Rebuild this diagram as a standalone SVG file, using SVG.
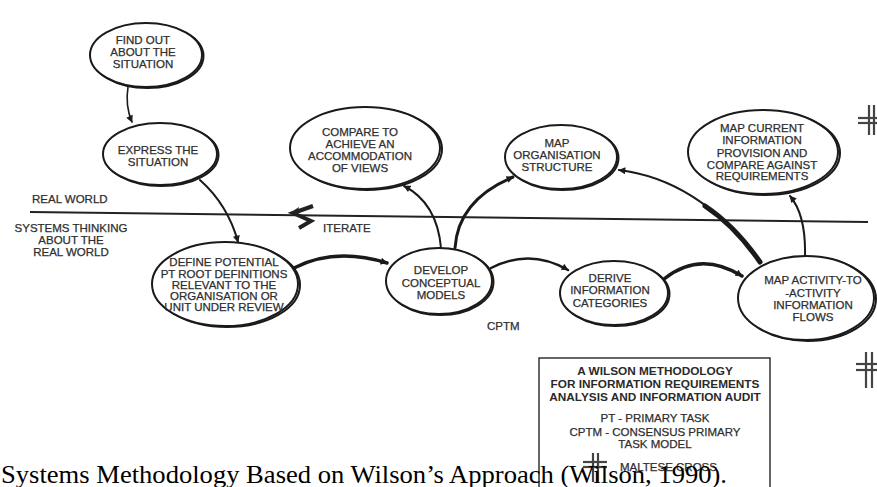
<svg xmlns="http://www.w3.org/2000/svg" width="877" height="487" viewBox="0 0 877 487">
<defs>
<style>
.n{fill:#fff;stroke:#1a1a1a;stroke-width:2}
.sh{fill:none;stroke:#1a1a1a;stroke-width:2}
.t{font-family:"Liberation Sans",Arial,sans-serif;font-size:11.5px;fill:#2e2e2e;stroke:#2e2e2e;stroke-width:0.25;text-anchor:middle}
.l{font-family:"Liberation Sans",Arial,sans-serif;font-size:11.5px;fill:#2e2e2e;stroke:#2e2e2e;stroke-width:0.25}
.b{font-family:"Liberation Sans",Arial,sans-serif;font-size:11.8px;font-weight:bold;fill:#2a2a2a;text-anchor:middle}
.c{fill:none;stroke:#1a1a1a;stroke-linecap:round}
.h{stroke:#444;stroke-width:2.2}
</style>
<marker id="ah" viewBox="0 0 10 10" refX="9" refY="5" markerWidth="8" markerHeight="7" markerUnits="userSpaceOnUse" orient="auto">
<path d="M0,0 L10,5 L0,10 Z" fill="#1a1a1a"/>
</marker>
</defs>
<rect width="877" height="487" fill="#fff"/>

<!-- boundary line and region labels -->
<line x1="30" y1="212" x2="868" y2="222" stroke="#222" stroke-width="2"/>
<text class="l" x="32" y="203">REAL WORLD</text>
<text class="t" x="71" y="232">SYSTEMS THINKING</text>
<text class="t" x="71" y="244">ABOUT THE</text>
<text class="t" x="71" y="256">REAL WORLD</text>
<polyline points="313,206 293,213 311,221 299,228" fill="none" stroke="#222" stroke-width="4" stroke-linejoin="miter"/>
<path d="M290,213 L299,207 L297,215 Z" fill="#222"/>
<text class="l" x="323" y="232">ITERATE</text>
<text class="l" x="487" y="330">CPTM</text>

<!-- connectors -->
<g id="connectors">
<path class="c" d="M128,87 Q125,106 132,122" stroke-width="1.6" marker-end="url(#ah)"/>
<path class="c" d="M200,180 Q228,205 238,242" stroke-width="2" marker-end="url(#ah)"/>
<path class="c" d="M294,268 Q335,247 387,263" stroke-width="3.5" marker-end="url(#ah)"/>
<path class="c" d="M441,248 Q437,203 404,186" stroke-width="2" marker-end="url(#ah)"/>
<path class="c" d="M455,248 Q458,200 513,177" stroke-width="3" marker-end="url(#ah)"/>
<path class="c" d="M491,268 Q530,248 568,270" stroke-width="2.5" marker-end="url(#ah)"/>
<path class="c" d="M664,279 Q700,250 742,276" stroke-width="3.5" marker-end="url(#ah)"/>
<path class="c" d="M760,262 Q700,180 619,170" stroke-width="2.2" marker-end="url(#ah)"/>
<path class="c" d="M760,262 Q735,226 705,206" stroke-width="5"/>
<path class="c" d="M805,256 Q806,215 790,196" stroke-width="2" marker-end="url(#ah)"/>
</g>

<g id="find-out">
<ellipse class="sh" cx="147.5" cy="56" rx="56" ry="32"/>
<ellipse class="n" cx="146" cy="55" rx="56" ry="32"/>
<text class="t" x="143" y="44">FIND OUT</text>
<text class="t" x="143" y="56">ABOUT THE</text>
<text class="t" x="143" y="68">SITUATION</text>
</g>

<g id="express">
<ellipse class="sh" cx="161.5" cy="155" rx="57" ry="31"/>
<ellipse class="n" cx="160" cy="154" rx="57" ry="31"/>
<text class="t" x="158" y="154">EXPRESS THE</text>
<text class="t" x="158" y="166">SITUATION</text>
</g>

<g id="compare">
<ellipse class="sh" cx="367" cy="149" rx="75" ry="41"/>
<ellipse class="n" cx="365" cy="148" rx="75" ry="41"/>
<text class="t" x="360" y="136">COMPARE TO</text>
<text class="t" x="360" y="148">ACHIEVE AN</text>
<text class="t" x="360" y="160">ACCOMMODATION</text>
<text class="t" x="360" y="172">OF VIEWS</text>
</g>

<g id="map-org">
<ellipse class="sh" cx="562.5" cy="158" rx="56" ry="32"/>
<ellipse class="n" cx="561" cy="157" rx="56" ry="32"/>
<text class="t" x="557" y="147">MAP</text>
<text class="t" x="557" y="159">ORGANISATION</text>
<text class="t" x="557" y="171">STRUCTURE</text>
</g>

<g id="map-current">
<ellipse class="sh" cx="765" cy="153" rx="75" ry="42"/>
<ellipse class="n" cx="763" cy="152" rx="75" ry="42"/>
<text class="t" x="762" y="132">MAP CURRENT</text>
<text class="t" x="762" y="144">INFORMATION</text>
<text class="t" x="762" y="157">PROVISION AND</text>
<text class="t" x="762" y="169">COMPARE AGAINST</text>
<text class="t" x="762" y="180">REQUIREMENTS</text>
</g>

<g id="define">
<ellipse class="sh" cx="227" cy="285" rx="73" ry="42"/>
<ellipse class="n" cx="225" cy="284" rx="73" ry="42"/>
<text class="t" x="224" y="266">DEFINE POTENTIAL</text>
<text class="t" x="224" y="278">PT ROOT DEFINITIONS</text>
<text class="t" x="224" y="289">RELEVANT TO THE</text>
<text class="t" x="224" y="300">ORGANISATION OR</text>
<text class="t" x="224" y="311">UNIT UNDER REVIEW</text>
</g>

<g id="develop">
<ellipse class="sh" cx="440.5" cy="282" rx="53" ry="33"/>
<ellipse class="n" cx="439" cy="281" rx="53" ry="33"/>
<text class="t" x="441" y="274">DEVELOP</text>
<text class="t" x="441" y="287">CONCEPTUAL</text>
<text class="t" x="441" y="299">MODELS</text>
</g>

<g id="derive">
<ellipse class="sh" cx="615.5" cy="294" rx="54" ry="32"/>
<ellipse class="n" cx="614" cy="293" rx="54" ry="32"/>
<text class="t" x="610" y="282">DERIVE</text>
<text class="t" x="610" y="294">INFORMATION</text>
<text class="t" x="610" y="307">CATEGORIES</text>
</g>

<g id="map-activity">
<ellipse class="sh" cx="808" cy="299" rx="68" ry="42"/>
<ellipse class="n" cx="806" cy="298" rx="68" ry="42"/>
<text class="t" x="813" y="284">MAP ACTIVITY-TO</text>
<text class="t" x="813" y="297">-ACTIVITY</text>
<text class="t" x="813" y="309">INFORMATION</text>
<text class="t" x="813" y="321">FLOWS</text>
</g>

<!-- maltese cross marks -->
<g id="cross-top">
<line class="h" x1="869" y1="105" x2="869" y2="135"/>
<line class="h" x1="874" y1="105" x2="874" y2="135"/>
<line class="h" x1="858" y1="118" x2="877" y2="118"/>
<line class="h" x1="858" y1="123" x2="877" y2="123"/>
</g>
<g id="cross-bottom">
<line class="h" x1="866" y1="352" x2="866" y2="388"/>
<line class="h" x1="872" y1="352" x2="872" y2="388"/>
<line class="h" x1="856" y1="364" x2="877" y2="364"/>
<line class="h" x1="856" y1="370" x2="877" y2="370"/>
</g>

<!-- legend box -->
<g id="legend">
<rect x="539" y="358" width="231" height="140" fill="none" stroke="#333" stroke-width="1.5"/>
<text class="b" x="655" y="375">A WILSON METHODOLOGY</text>
<text class="b" x="655" y="388">FOR INFORMATION REQUIREMENTS</text>
<text class="b" x="655" y="401">ANALYSIS AND INFORMATION AUDIT</text>
<text class="t" x="655" y="422">PT - PRIMARY TASK</text>
<text class="t" x="655" y="436">CPTM - CONSENSUS PRIMARY</text>
<text class="t" x="655" y="448">TASK MODEL</text>
<line class="h" x1="593" y1="453" x2="593" y2="482"/>
<line class="h" x1="598" y1="453" x2="598" y2="482"/>
<line class="h" x1="583" y1="462" x2="607" y2="462"/>
<line class="h" x1="583" y1="467" x2="607" y2="467"/>
<text class="l" x="620" y="471">MALTESE CROSS</text>
</g>

<text x="1" y="483" font-family="'Liberation Serif','Times New Roman',serif" font-size="26" fill="#000" textLength="726" lengthAdjust="spacingAndGlyphs">Systems Methodology Based on Wilson’s Approach (Wilson, 1990).</text>
</svg>
